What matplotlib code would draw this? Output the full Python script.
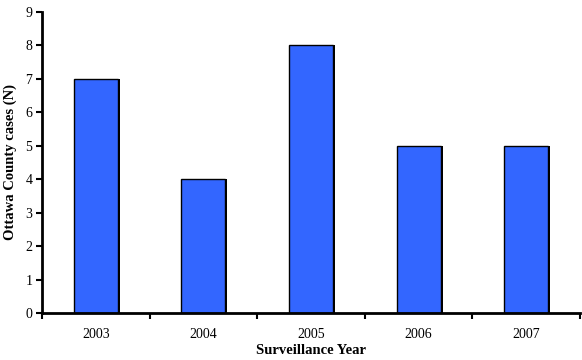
import matplotlib
matplotlib.use("Agg")
import matplotlib.pyplot as plt
import numpy as np

years = ["2003", "2004", "2005", "2006", "2007"]
cases = [7, 4, 8, 5, 5]

plt.rcParams['font.family'] = ['Liberation Serif', 'DejaVu Serif']

fig = plt.figure(figsize=(5.82, 3.6), dpi=100)
ax = fig.add_axes([42/582, 47/360, 538/582, 301/360])

x = np.arange(len(years))
ax.bar(x + 0.018, cases, width=0.41, color="black", zorder=1)
ax.bar(x, cases, width=0.41, color="#3366FF", edgecolor="black", linewidth=1.0, zorder=2)

ax.set_xlim(-0.5, len(years) - 0.5)
ax.set_ylim(0, 9)
ax.set_yticks(range(0, 10))
ax.set_xticks(x)
ax.set_xticklabels(years)
ax.set_xticks(np.arange(-0.5, len(years), 1.0), minor=True)
ax.tick_params(axis='x', which='major', length=0, pad=11, labelsize=10)
ax.tick_params(axis='x', which='minor', length=4, width=1.5, direction='out')
ax.tick_params(axis='y', length=4, width=1.5, direction='out', labelsize=10, pad=3)

for s in ['top', 'right']:
    ax.spines[s].set_visible(False)
for s in ['left', 'bottom']:
    ax.spines[s].set_linewidth(2)

ax.set_ylabel("Ottawa County cases (N)", fontweight='bold', fontsize=10.5, labelpad=6)
ax.set_xlabel("Surveillance Year", fontweight='bold', fontsize=10.5, labelpad=2)

fig.savefig("out.png", dpi=100)
